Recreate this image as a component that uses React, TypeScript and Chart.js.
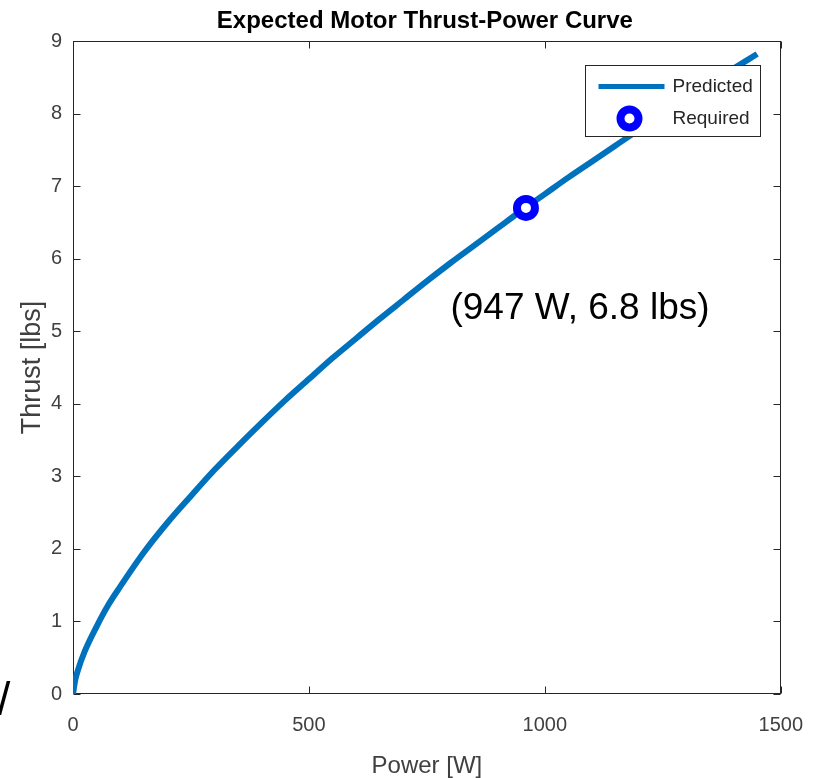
import React, { useEffect, useRef } from "react";
import { Chart, registerables } from "chart.js";

Chart.register(...registerables);

// ---- data ----
const powerW = [0, 5, 10, 25, 50, 75, 100, 150, 200, 250, 300, 350, 400, 450, 500, 550, 600, 650, 700, 750, 800, 850, 900, 950, 1000, 1050, 1100, 1150, 1200, 1250, 1300, 1350, 1400, 1450];
const thrustLbs = [0, 0.2, 0.32, 0.59, 0.93, 1.23, 1.48, 1.95, 2.36, 2.73, 3.09, 3.42, 3.74, 4.05, 4.34, 4.63, 4.9, 5.17, 5.43, 5.69, 5.94, 6.18, 6.42, 6.66, 6.89, 7.12, 7.34, 7.56, 7.78, 7.99, 8.21, 8.41, 8.62, 8.82];
const requiredPowerW = [960];
const requiredThrustLbs = [6.7];
const xTicks = [0, 500, 1000, 1500];
const yTicks = [0, 1, 2, 3, 4, 5, 6, 7, 8, 9];

const titleText = "Expected Motor Thrust-Power Curve";
const xTitle = "Power [W]";
const yTitle = "Thrust [lbs]";
const seriesNames = ["Predicted", "Required"];
const annotationText = "(947 W, 6.8 lbs)";
const annotationAt = { x: 800, y: 5.31 };

const LINE_COLOR = "#0072BD";
const MARKER_COLOR = "#0000FF";
const AXIS_COLOR = "#262626";
const TEXT_COLOR = "#404040";
const FONT = "'Liberation Sans', Arial, sans-serif";

const decorations = {
  id: "decorations",
  beforeDatasetsDraw(chart: any) {
    const { ctx, chartArea: a, scales } = chart;
    ctx.save();
    ctx.strokeStyle = AXIS_COLOR;
    ctx.lineWidth = 1;
    const L = Math.round(a.left) + 0.5;
    const R = Math.round(a.right) - 0.5;
    const T = Math.round(a.top) + 0.5;
    const B = Math.round(a.bottom) - 0.5;
    ctx.strokeRect(L, T, R - L, B - T);
    const tl = 7;
    ctx.beginPath();
    xTicks.forEach((v) => {
      const px = Math.round(scales.x.getPixelForValue(v)) + 0.5;
      ctx.moveTo(px, B);
      ctx.lineTo(px, B - tl);
      ctx.moveTo(px, T);
      ctx.lineTo(px, T + tl);
    });
    yTicks.forEach((v) => {
      const py = Math.round(scales.y.getPixelForValue(v)) + 0.5;
      ctx.moveTo(L, py);
      ctx.lineTo(L + tl, py);
      ctx.moveTo(R, py);
      ctx.lineTo(R - tl, py);
    });
    ctx.stroke();
    ctx.restore();
  },
  afterDraw(chart: any) {
    const { ctx, chartArea: a, scales } = chart;
    ctx.save();
    // title
    ctx.fillStyle = "#000";
    ctx.font = `bold 24px ${FONT}`;
    ctx.textAlign = "center";
    ctx.textBaseline = "alphabetic";
    ctx.fillText(titleText, (a.left + a.right) / 2 - 2, a.top - 13);

    // annotation
    ctx.font = `37px ${FONT}`;
    ctx.textAlign = "left";
    ctx.textBaseline = "middle";
    ctx.fillStyle = "#000";
    ctx.fillText(annotationText, scales.x.getPixelForValue(annotationAt.x), scales.y.getPixelForValue(annotationAt.y));

    // stray glyph at bottom-left
    ctx.font = `46px ${FONT}`;
    ctx.textAlign = "center";
    ctx.fillText("/", 4, a.bottom + 8);

    // legend
    const bw = 175, bh = 71;
    const bx = Math.round(a.right - 21 - bw) + 0.5;
    const by = Math.round(a.top + 24) + 0.5;
    ctx.fillStyle = "#fff";
    ctx.fillRect(bx, by, bw, bh);
    ctx.strokeStyle = AXIS_COLOR;
    ctx.lineWidth = 1;
    ctx.strokeRect(bx, by, bw, bh);
    const row1 = by + 21;
    const row2 = by + 53;
    ctx.strokeStyle = LINE_COLOR;
    ctx.lineWidth = 5;
    ctx.beginPath();
    ctx.moveTo(bx + 13, row1);
    ctx.lineTo(bx + 79, row1);
    ctx.stroke();
    ctx.strokeStyle = MARKER_COLOR;
    ctx.fillStyle = "#fff";
    ctx.lineWidth = 8;
    ctx.beginPath();
    ctx.arc(bx + 44, row2, 9, 0, Math.PI * 2);
    ctx.fill();
    ctx.stroke();
    ctx.fillStyle = "#262626";
    ctx.font = `19px ${FONT}`;
    ctx.textAlign = "left";
    ctx.textBaseline = "middle";
    ctx.fillText(seriesNames[0], bx + 87, row1);
    ctx.fillText(seriesNames[1], bx + 87, row2);
    ctx.restore();
  },
};

export default function App() {
  const ref = useRef<HTMLCanvasElement | null>(null);
  useEffect(() => {
    if (!ref.current) return;
    const chart = new Chart(ref.current, {
      type: "line",
      data: {
        datasets: [
          {
            label: seriesNames[1],
            data: requiredPowerW.map((x, i) => ({ x, y: requiredThrustLbs[i] })),
            showLine: false,
            pointRadius: 9,
            pointBorderWidth: 8,
            pointBorderColor: MARKER_COLOR,
            pointBackgroundColor: "#fff",
            borderColor: MARKER_COLOR,
          },
          {
            label: seriesNames[0],
            data: powerW.map((x, i) => ({ x, y: thrustLbs[i] })),
            borderColor: LINE_COLOR,
            borderWidth: 6,
            pointRadius: 0,
            cubicInterpolationMode: "monotone",
            fill: false,
          },
        ],
      },
      options: {
        responsive: false,
        animation: false,
        layout: { autoPadding: false, padding: { left: 0, top: 41, right: 37, bottom: 0 } },
        plugins: { legend: { display: false }, tooltip: { enabled: false }, title: { display: false } },
        scales: {
          x: {
            type: "linear",
            min: 0,
            max: 1500,
            afterBuildTicks: (s: any) => { s.ticks = xTicks.map((v) => ({ value: v })); },
            afterFit: (s: any) => { s.height = 84; },
            grid: { display: false, drawTicks: false },
            border: { display: false },
            ticks: { padding: 19, color: TEXT_COLOR, font: { family: FONT, size: 20 }, maxRotation: 0, callback: (v: any) => String(v) },
            title: { display: true, text: xTitle, color: TEXT_COLOR, font: { family: FONT, size: 24, lineHeight: 1 }, padding: { top: 0, bottom: 0 } },
          },
          y: {
            type: "linear",
            min: 0,
            max: 9,
            afterBuildTicks: (s: any) => { s.ticks = yTicks.map((v) => ({ value: v })); },
            afterFit: (s: any) => { s.width = 73; },
            grid: { display: false, drawTicks: false },
            border: { display: false },
            ticks: { padding: 11, color: TEXT_COLOR, font: { family: FONT, size: 20 }, callback: (v: any) => String(v) },
            title: { display: true, text: yTitle, color: TEXT_COLOR, font: { family: FONT, size: 27 }, padding: { top: 16, bottom: 0 } },
          },
        },
      },
      plugins: [decorations],
    });
    return () => chart.destroy();
  }, []);
  return (
    <div style={{ position: "fixed", left: 0, top: 0, width: 822, height: 778, background: "#fff" }}>
      <canvas ref={ref} width={822} height={778} style={{ width: 822, height: 778, display: "block" }} />
    </div>
  );
}
